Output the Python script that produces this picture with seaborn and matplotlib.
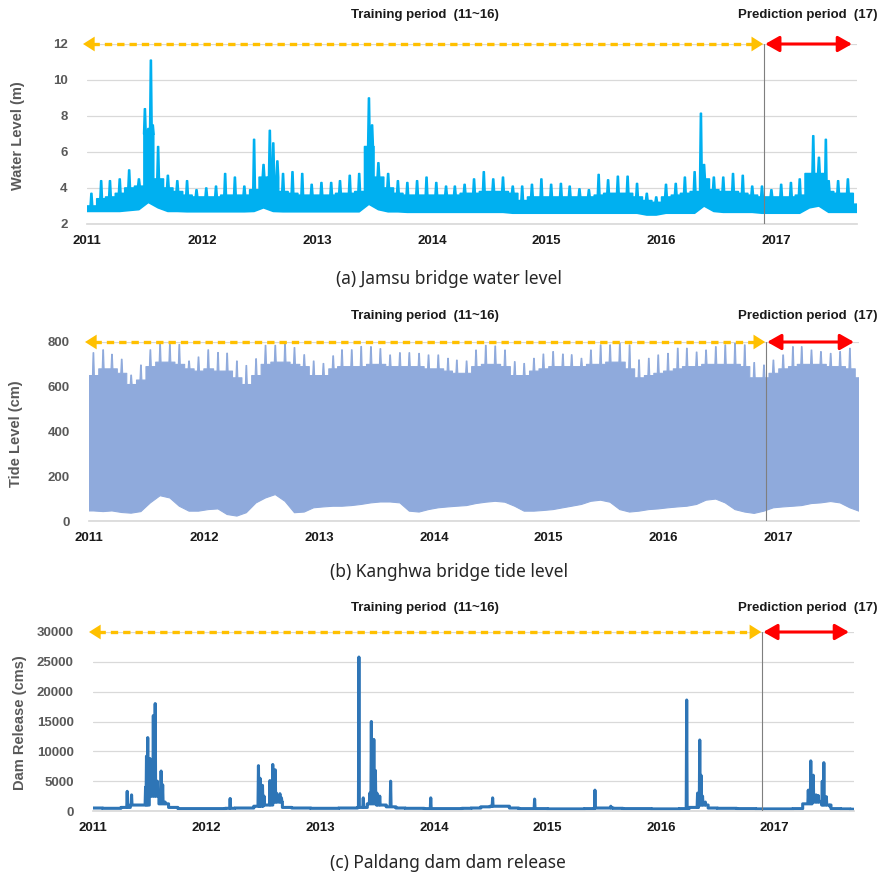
import numpy as np
import pandas as pd
import matplotlib
matplotlib.use("Agg")
import matplotlib.pyplot as plt
import matplotlib.dates as mdates
import seaborn as sns

# ----------------------------------------------------
# Monthly readings (Jan 2011 .. Sep 2017), 81 months
# ----------------------------------------------------
months = pd.date_range("2011-01-01", periods=81, freq="MS")
x_end = pd.Timestamp("2017-09-13")
split_date = pd.Timestamp("2016-11-22")
years = ["2011", "2012", "2013", "2014", "2015", "2016", "2017"]

# (a) Jamsu bridge water level (m)
wl_peak = [3.7, 4.4, 4.4, 4.5, 5.0, 4.5, 7.3, 6.3, 4.7, 4.4, 4.4, 3.9,
           4.0, 4.1, 4.8, 4.6, 4.1, 6.7, 5.3, 6.5, 4.8, 4.9, 4.8, 4.2,
           4.3, 4.3, 4.4, 4.7, 4.8, 9.0, 5.4, 4.8, 4.4, 4.3, 4.4, 4.6,
           4.3, 4.1, 4.1, 4.2, 4.5, 4.9, 4.5, 4.6, 4.1, 4.1, 4.2, 4.5,
           4.2, 4.25, 4.1, 3.95, 3.9, 4.75, 4.45, 4.65, 4.65, 4.25, 3.7, 3.5,
           4.2, 4.25, 4.6, 4.9, 5.3, 4.6, 4.6, 4.8, 4.7, 4.1, 4.1, 3.9,
           4.2, 4.3, 4.5, 4.8, 5.7, 4.4, 4.4, 4.5, 3.7]
wl_base = [3.0, 3.4, 3.5, 3.7, 4.0, 4.1, 7.0, 4.5, 4.0, 3.8, 3.6, 3.5,
           3.5, 3.5, 3.6, 3.6, 3.6, 3.9, 4.6, 4.6, 3.8, 3.7, 3.6, 3.6,
           3.6, 3.6, 3.7, 3.7, 3.8, 6.3, 4.6, 4.0, 3.7, 3.6, 3.6, 3.6,
           3.6, 3.6, 3.6, 3.7, 3.7, 3.8, 3.8, 3.8, 3.7, 3.3, 3.5, 3.5,
           3.5, 3.5, 3.5, 3.5, 3.5, 3.6, 3.7, 3.7, 3.7, 3.5, 3.3, 3.2,
           3.5, 3.6, 3.7, 3.8, 4.5, 3.9, 3.8, 3.8, 3.7, 3.6, 3.5, 3.5,
           3.5, 3.5, 3.6, 4.8, 4.8, 3.8, 3.7, 3.7, 3.1]
wl_low = [2.7, 2.7, 2.7, 2.7, 2.75, 2.8, 3.2, 2.9, 2.7, 2.7, 2.68, 2.68,
          2.68, 2.68, 2.68, 2.68, 2.68, 2.7, 2.9, 2.7, 2.68, 2.68, 2.68, 2.68,
          2.68, 2.68, 2.68, 2.68, 2.68, 3.1, 2.8, 2.68, 2.68, 2.65, 2.65, 2.65,
          2.65, 2.65, 2.65, 2.65, 2.65, 2.65, 2.65, 2.65, 2.6, 2.6, 2.6, 2.6,
          2.6, 2.6, 2.6, 2.6, 2.6, 2.6, 2.6, 2.6, 2.6, 2.6, 2.5, 2.5,
          2.6, 2.6, 2.6, 2.6, 3.0, 2.7, 2.65, 2.65, 2.65, 2.65, 2.6, 2.6,
          2.6, 2.6, 2.6, 2.9, 3.0, 2.65, 2.65, 2.65, 2.65]
wl_extra_dates = ["2011-07-04", "2011-07-23", "2011-07-29", "2012-08-04", "2012-08-28",
                  "2013-06-25", "2016-05-05", "2017-04-27", "2017-06-06"]
wl_extra_vals = [8.4, 11.1, 7.5, 7.2, 5.5, 7.5, 8.15, 6.9, 6.7]

# (b) Kanghwa bridge tide level (cm)
tide_peak = [752, 765, 745, 723, 652, 697, 765, 791, 789, 789, 715, 733,
             765, 753, 750, 715, 695, 725, 785, 785, 795, 775, 743, 715,
             704, 738, 765, 765, 780, 779, 770, 742, 752, 752, 749, 742,
             742, 727, 719, 715, 764, 785, 782, 764, 712, 704, 727, 746,
             757, 746, 743, 727, 764, 787, 787, 794, 787, 720, 727, 742,
             749, 772, 772, 755, 764, 779, 787, 794, 787, 708, 697, 719,
             742, 779, 779, 764, 757, 749, 757, 772, 740]
tide_base = [650, 680, 680, 660, 610, 630, 690, 710, 710, 700, 680, 670,
             680, 670, 670, 640, 610, 650, 700, 710, 710, 700, 690, 650,
             650, 680, 690, 690, 690, 700, 700, 690, 690, 690, 690, 680,
             680, 670, 660, 660, 690, 700, 700, 690, 650, 650, 670, 680,
             690, 690, 690, 690, 700, 700, 710, 710, 680, 640, 650, 660,
             670, 680, 690, 690, 700, 700, 700, 700, 690, 640, 640, 660,
             680, 690, 700, 700, 700, 690, 690, 680, 640]
tide_low = [45, 42, 45, 38, 35, 42, 81, 113, 103, 66, 44, 44,
            51, 54, 29, 22, 37, 81, 103, 118, 88, 37, 40, 59,
            63, 66, 66, 69, 74, 81, 85, 85, 81, 44, 40, 51,
            59, 63, 66, 69, 78, 84, 88, 84, 66, 44, 44, 47,
            51, 59, 66, 74, 88, 93, 84, 51, 40, 44, 51, 54,
            59, 63, 66, 74, 93, 98, 81, 51, 40, 34, 44, 59,
            63, 66, 69, 78, 81, 87, 81, 59, 44]

# (c) Paldang dam release (cms)
dam_base = [500, 450, 450, 600, 1000, 1000, 2500, 1200, 600, 400, 400, 400,
            400, 400, 450, 500, 500, 800, 1000, 1500, 600, 500, 500, 450,
            450, 450, 500, 500, 600, 1200, 1000, 700, 500, 450, 450, 400,
            400, 400, 400, 450, 500, 700, 800, 800, 500, 400, 400, 400,
            350, 350, 350, 350, 400, 500, 500, 450, 400, 400, 400, 350,
            350, 350, 400, 600, 1000, 500, 450, 450, 400, 400, 350, 350,
            350, 350, 400, 1200, 1500, 1000, 400, 350, 300]
dam_spike_dates = ["2011-04-21", "2011-05-05", "2011-06-19", "2011-06-22", "2011-06-26",
                   "2011-07-03", "2011-07-08", "2011-07-14", "2011-07-20", "2011-07-27",
                   "2011-08-08", "2011-08-13", "2011-08-21", "2012-03-17", "2012-06-16",
                   "2012-06-21", "2012-06-29", "2012-07-04", "2012-07-23", "2012-08-01",
                   "2012-08-09", "2012-08-13", "2012-08-24", "2012-08-29", "2013-05-05",
                   "2013-05-19", "2013-06-09", "2013-06-14", "2013-06-22", "2013-06-27",
                   "2013-07-02", "2013-07-11", "2013-08-15", "2013-12-22", "2014-07-09",
                   "2014-11-21", "2015-06-03", "2015-07-24", "2016-03-24", "2016-04-28",
                   "2016-05-05", "2016-05-09", "2016-05-14", "2016-05-23", "2017-04-19",
                   "2017-04-27", "2017-05-05", "2017-05-14", "2017-05-21", "2017-06-03",
                   "2017-06-08", "2017-06-16", "2017-06-27"]
dam_spike_vals = [3300, 2700, 4000, 9200, 12300, 8800, 8500, 16000, 18000, 5000,
                  6700, 4400, 1500, 2100, 7600, 5500, 4300, 2500, 5100, 7800,
                  6900, 3000, 2900, 2200, 25800, 2200, 3000, 15000, 12000, 6800,
                  3000, 2500, 5000, 2200, 2200, 2000, 3500, 800, 18600, 3000,
                  11900, 6000, 2500, 1500, 3500, 8400, 6000, 2700, 2600, 5000,
                  8100, 2400, 800]

# ----------------------------------------------------
# helpers: upper edge = monthly band with narrow teeth,
# lower edge = monthly lows joined at mid-month
# ----------------------------------------------------
def upper_edge(tooth_dates, tooth_vals, base, top_half, foot_half):
    events = sorted(zip(pd.to_datetime(tooth_dates), tooth_vals))
    xs, up = [], []
    for i, s in enumerate(months):
        e = min(s + pd.offsets.MonthBegin(1), x_end)
        xs.append(s); up.append(base[i])
        for d, v in events:
            if s <= d < e:
                for dx, val in ((-foot_half, base[i]), (-top_half, v),
                                (top_half, v), (foot_half, base[i])):
                    xs.append(d + pd.Timedelta(days=dx)); up.append(val)
        xs.append(e); up.append(base[i])
    return pd.DataFrame({"date": xs, "value": up})


def lower_edge(low):
    xs = [months[0]] + list(centers) + [x_end]
    return pd.DataFrame({"date": xs, "value": [low[0]] + list(low) + [low[-1]]})


centers = months + pd.Timedelta(days=14)
centers = centers.where(centers < x_end, x_end)

wl_up = upper_edge(list(centers) + list(pd.to_datetime(wl_extra_dates)),
                   wl_peak + wl_extra_vals, wl_base, 1.5, 4.0)
wl_lo = lower_edge(wl_low)
tide_up = upper_edge(centers, tide_peak, tide_base, 1.0, 3.0)
tide_lo = lower_edge(tide_low)
dam_up = upper_edge(dam_spike_dates, dam_spike_vals, dam_base, 0.0, 1.5)

# ----------------------------------------------------
# figure
# ----------------------------------------------------
sns.set_theme(style="white")
plt.rcParams["font.family"] = ["Liberation Sans", "DejaVu Sans"]

W, H = 890, 876
fig = plt.figure(figsize=(W / 100, H / 100), dpi=100)


def px_axes(left, top, right, bottom):
    return fig.add_axes([left / W, 1 - bottom / H, (right - left) / W, (bottom - top) / H])


ax_a = px_axes(87, 44, 857, 224)
ax_b = px_axes(89, 342, 859, 521)
ax_c = px_axes(93, 632, 854, 811)

c_wl, c_tide, c_dam = "#00B0F0", "#8FAADC", "#2E75B6"
yellow, red = "#FFC000", "#FF0000"


def band(ax, up, lo, color, lw):
    xs = np.concatenate([mdates.date2num(up["date"]), mdates.date2num(lo["date"])[::-1]])
    ys = np.concatenate([up["value"].to_numpy(), lo["value"].to_numpy()[::-1]])
    ax.fill(xs, ys, color=color, lw=0)
    sns.lineplot(data=up, x="date", y="value", ax=ax, color=color, lw=lw,
                 estimator=None, sort=False)
    sns.lineplot(data=lo, x="date", y="value", ax=ax, color=color, lw=lw,
                 estimator=None, sort=False)


band(ax_a, wl_up, wl_lo, c_wl, 1.2)
band(ax_b, tide_up, tide_lo, c_tide, 0.8)
sns.lineplot(data=dam_up, x="date", y="value", ax=ax_c, color=c_dam, lw=2.2,
             estimator=None, sort=False)

tick_dates = [pd.Timestamp(f"{y}-01-01") for y in years]
bold = dict(fontweight="bold", fontsize=9.5)


def style_axis(ax, yticks, width_px):
    ax.set_xlim(months[0], x_end)
    ax.set_ylim(yticks[0], yticks[-1])
    ax.set_yticks(yticks, labels=[str(v) for v in yticks], color="#595959", **bold)
    ax.set_xticks(tick_dates, labels=years, color="#1a1a1a", **bold)
    ax.tick_params(axis="both", length=0)
    ax.tick_params(axis="y", pad=14)
    ax.tick_params(axis="x", pad=8)
    ax.yaxis.grid(True, color="#D9D9D9", lw=0.9)
    ax.xaxis.grid(False)
    ax.set_axisbelow(True)
    for sp in ["top", "right", "left"]:
        ax.spines[sp].set_visible(False)
    ax.spines["bottom"].set_color("#D9D9D9")
    ax.set_xlabel("")
    ax.set_ylabel("")
    ax.axvline(split_date, color="#7F7F7F", lw=0.8, zorder=5)

    # period arrows along the top gridline
    x0, x1 = ax.get_xlim()
    dpp = (x1 - x0) / width_px
    y = yticks[-1]
    sx = mdates.date2num(split_date)
    left_tip = x0 - 4 * dpp
    head = dict(arrowstyle="-|>,head_length=0.6,head_width=0.38", mutation_scale=14,
                color=yellow, lw=0, shrinkA=0, shrinkB=0)
    ax.plot([left_tip + 9 * dpp, sx - 10 * dpp], [y, y], color=yellow, lw=2.4,
            ls=(0, (2.2, 1.5)), clip_on=False, zorder=6)
    ax.annotate("", xy=(left_tip, y), xytext=(left_tip + 12 * dpp, y),
                arrowprops=head, annotation_clip=False)
    ax.annotate("", xy=(sx - 1 * dpp, y), xytext=(sx - 13 * dpp, y),
                arrowprops=head, annotation_clip=False)
    ax.annotate("", xy=(x1 - 5 * dpp, y), xytext=(sx + 1 * dpp, y),
                arrowprops=dict(arrowstyle="<|-|>,head_length=0.6,head_width=0.34",
                                mutation_scale=14, color=red, lw=2.2,
                                shrinkA=0, shrinkB=0),
                annotation_clip=False)


style_axis(ax_a, [2, 4, 6, 8, 10, 12], 770)
style_axis(ax_b, [0, 200, 400, 600, 800], 770)
style_axis(ax_c, [0, 5000, 10000, 15000, 20000, 25000, 30000], 761)


def ftext(x, y, s, **kw):
    fig.text(x / W, 1 - y / H, s, ha="center", va="center", **kw)


for ytop in (15, 316, 608):
    ftext(425, ytop, "Training period  (11~16)", color="#1a1a1a", **bold)
    ftext(808, ytop, "Prediction period  (17)", color="#1a1a1a", **bold)

ylab = dict(rotation=90, color="#595959", fontweight="bold", fontsize=10.5)
ftext(18, 136, "Water Level (m)", **ylab)
ftext(16, 434, "Tide Level (cm)", **ylab)
ftext(20, 723, "Dam Release (cms)", **ylab)

cap = dict(fontsize=12.5, color="#262626", family=["Noto Sans", "DejaVu Sans"])
ftext(449, 279, "(a) Jamsu bridge water level", **cap)
ftext(449, 572, "(b) Kanghwa bridge tide level", **cap)
ftext(448, 863, "(c) Paldang dam dam release", **cap)

fig.savefig("out.png", dpi=100)
